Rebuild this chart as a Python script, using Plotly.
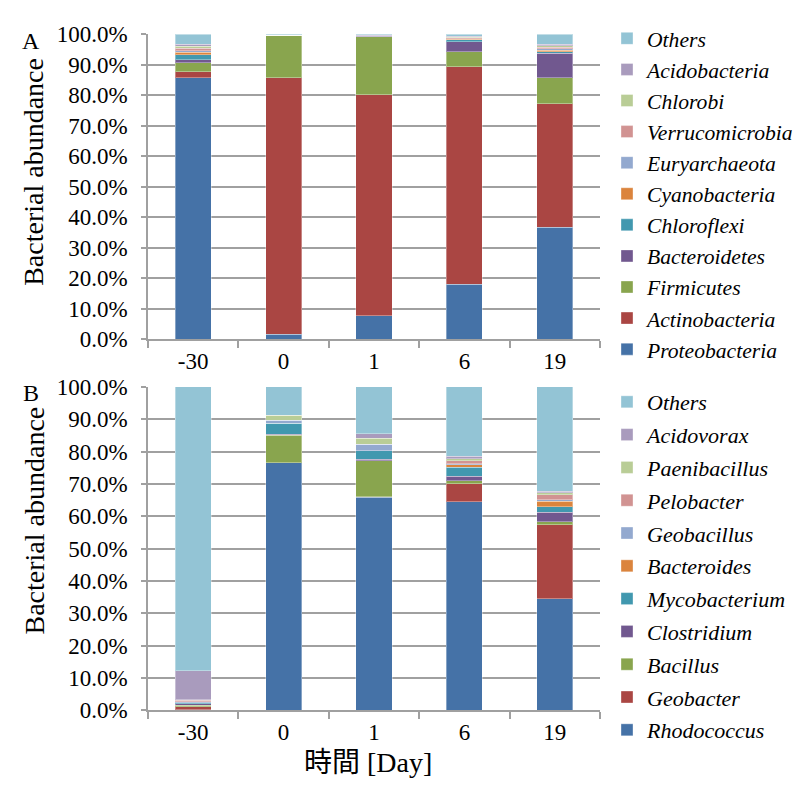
import plotly.graph_objects as go

# Sampling days
days = ["-30", "0", "1", "6", "19"]

# Panel A: phylum-level relative abundance (%), bottom to top of each stack
phyla = ["Proteobacteria", "Actinobacteria", "Firmicutes", "Bacteroidetes",
         "Chloroflexi", "Cyanobacteria", "Euryarchaeota", "Verrucomicrobia",
         "Chlorobi", "Acidobacteria", "Others"]
proteobacteria = [85.8, 1.7, 7.8, 18.1, 36.8]
actinobacteria = [1.9, 84.1, 72.4, 71.2, 40.4]
firmicutes = [3.0, 13.8, 19.0, 5.0, 8.6]
bacteroidetes = [0.9, 0.0, 0.0, 3.3, 8.0]
chloroflexi = [1.7, 0.0, 0.0, 0.6, 0.5]
cyanobacteria = [0.8, 0.0, 0.0, 0.1, 0.5]
euryarchaeota = [0.5, 0.0, 0.0, 0.3, 0.5]
verrucomicrobia = [0.9, 0.0, 0.0, 0.3, 0.5]
chlorobi = [0.6, 0.0, 0.0, 0.1, 0.5]
acidobacteria = [0.7, 0.0, 0.4, 0.4, 0.4]
others_a = [3.2, 0.4, 0.4, 0.6, 3.3]
series_a = [proteobacteria, actinobacteria, firmicutes, bacteroidetes,
            chloroflexi, cyanobacteria, euryarchaeota, verrucomicrobia,
            chlorobi, acidobacteria, others_a]

# Panel B: genus-level relative abundance (%), bottom to top of each stack
genera = ["Rhodococcus", "Geobacter", "Bacillus", "Clostridium",
          "Mycobacterium", "Bacteroides", "Geobacillus", "Pelobacter",
          "Paenibacillus", "Acidovorax", "Others"]
rhodococcus = [0.2, 76.6, 65.8, 64.4, 34.5]
geobacter = [0.9, 0.0, 0.2, 5.6, 22.9]
bacillus = [0.5, 8.4, 11.1, 0.9, 0.9]
clostridium = [0.4, 0.3, 0.5, 1.4, 3.0]
mycobacterium = [0.3, 3.4, 2.6, 2.8, 1.6]
bacteroides = [0.1, 0.0, 0.0, 0.8, 1.7]
geobacillus = [0.2, 1.0, 2.0, 0.3, 0.5]
pelobacter = [0.5, 0.0, 0.0, 0.9, 1.5]
paenibacillus = [0.2, 1.5, 1.9, 0.6, 0.7]
acidovorax = [8.9, 0.0, 1.4, 0.9, 0.4]
others_b = [87.8, 8.8, 14.5, 21.4, 32.3]
series_b = [rhodococcus, geobacter, bacillus, clostridium, mycobacterium,
            bacteroides, geobacillus, pelobacter, paenibacillus, acidovorax,
            others_b]

colors = ["#4572A7", "#AA4643", "#89A54E", "#71588F", "#4198AF", "#DB843D",
          "#93A9CF", "#D19392", "#B9CD96", "#A99BBD", "#93C4D5"]

SERIF = "Liberation Serif"
GRID = "#a0a0a0"

fig = go.Figure()

# Top of the stack is listed first in each legend
for i, (name, vals, col) in enumerate(zip(phyla, series_a, colors)):
    fig.add_trace(go.Bar(
        x=days, y=vals, name=name, marker_color=col,
        marker_line=dict(color="rgba(255,255,255,0.35)", width=1),
        xaxis="x", yaxis="y", legend="legend", legendgroup="a_" + name,
        legendrank=100 - i,
    ))

for i, (name, vals, col) in enumerate(zip(genera, series_b, colors)):
    fig.add_trace(go.Bar(
        x=days, y=vals, name=name, marker_color=col,
        marker_line=dict(color="rgba(255,255,255,0.35)", width=1),
        xaxis="x2", yaxis="y2", legend="legend2", legendgroup="b_" + name,
        legendrank=100 - i,
    ))

W, H = 811, 795


def px_x(v):
    return v / W


def px_y(v):
    return 1 - v / H


xcommon = dict(
    type="category", showline=True, linecolor=GRID, linewidth=1.5,
    ticks="outside", tickson="boundaries", ticklen=7, tickcolor=GRID,
    tickwidth=1.5, showgrid=False,
    tickfont=dict(family=SERIF, size=23, color="black"),
)
ycommon = dict(
    range=[0, 100], dtick=10, tickformat=".1f", ticksuffix="%",
    showline=True, linecolor=GRID, linewidth=1.5, ticks="outside",
    ticklen=5, tickcolor=GRID, tickwidth=1.5, showgrid=True,
    gridcolor=GRID, gridwidth=1.5, zeroline=False, ticklabelstandoff=9,
    tickfont=dict(family=SERIF, size=23, color="black"),
)

legcommon = dict(
    traceorder="grouped", bgcolor="rgba(0,0,0,0)",
    xanchor="left", yanchor="top", itemclick=False,
)


def legfont(size):
    return dict(family=SERIF, size=size, color="black", style="italic")


def label(text, x, y, size, angle=0, family=SERIF):
    return dict(text=text, x=px_x(x), y=px_y(y), xref="paper", yref="paper",
                xanchor="center", yanchor="middle", textangle=angle,
                showarrow=False,
                font=dict(family=family, size=size, color="black"))


fig.update_layout(
    width=W, height=H, margin=dict(l=0, r=0, t=0, b=0),
    paper_bgcolor="white", plot_bgcolor="white",
    barmode="stack", bargap=0.6,
    xaxis=dict(domain=[px_x(148), px_x(600)], anchor="y", **xcommon),
    yaxis=dict(domain=[px_y(338), px_y(23)], anchor="x", **ycommon),
    xaxis2=dict(domain=[px_x(148), px_x(600)], anchor="y2", **xcommon),
    yaxis2=dict(domain=[px_y(721), px_y(387)], anchor="x2", **ycommon),
    legend=dict(x=px_x(607), y=px_y(6), tracegroupgap=0,
                font=legfont(21.6), **legcommon),
    legend2=dict(x=px_x(607), y=px_y(381), tracegroupgap=1.2,
                 font=legfont(22), **legcommon),
    showlegend=True,
    annotations=[
        label("A", 31, 30, 24),
        label("B", 31, 393, 24),
        label("Bacterial abundance", 34, 165, 28, angle=-90),
        label("Bacterial abundance", 34, 525, 28, angle=-90),
        label("時間 [Day]", 368, 775, 28,
              family="Liberation Serif, Noto Sans CJK JP"),
    ],
)

fig.write_html("out.html")
